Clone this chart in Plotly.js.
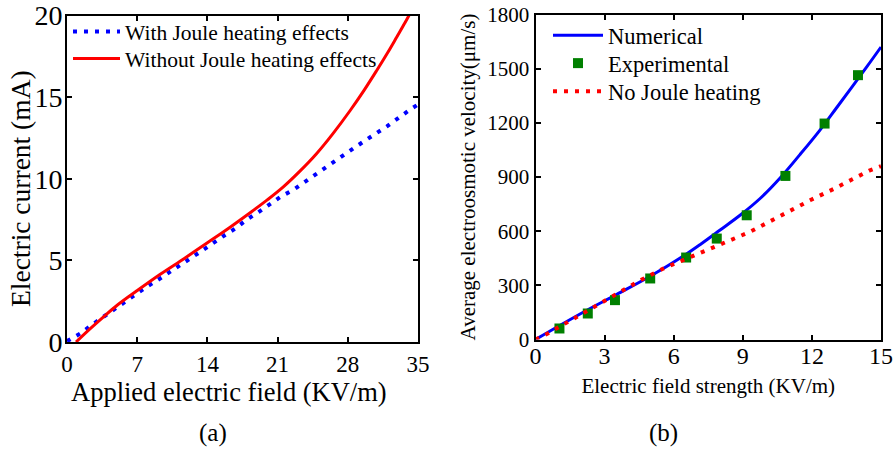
<!DOCTYPE html>
<html>
<head>
<meta charset="utf-8">
<script src="https://cdn.plot.ly/plotly-3.0.1.min.js"></script>
<style>html,body{margin:0;padding:0;background:#fff;}#chart{width:895px;height:450px;}</style>
</head>
<body>
<div id="chart"></div>
<script>
// Panel (a): electric current vs applied field
const fieldA_with = [0, 1.4, 2.5, 3.7, 4.9, 5.9, 7, 8, 9.2, 10.3, 11.3, 12.5, 13.6, 14.6, 15.8, 16.9, 17.9, 19.1, 20.3, 21.3, 22.6, 24.7, 27.4, 29.7, 31.9, 34.2, 35];
const currentWith = [0.05, 0.55, 1.06, 1.57, 2.08, 2.5, 3.0, 3.4, 3.86, 4.33, 4.73, 5.2, 5.65, 6.1, 6.57, 7.0, 7.49, 7.96, 8.5, 8.9, 9.33, 10.25, 11.37, 12.33, 13.21, 14.23, 14.55];
const fieldA_without = [0.9, 2.4, 3.7, 5, 7, 9.3, 11.7, 14, 16.3, 18.4, 20, 21.6, 23.2, 24.9, 26.5, 28.2, 29.6, 30.9, 32, 32.9, 33.7, 34.4, 35.2];
const currentWithout = [0, 0.86, 1.57, 2.25, 3.15, 4.15, 5.12, 6.08, 7.05, 7.98, 8.72, 9.52, 10.45, 11.55, 12.75, 14.15, 15.4, 16.65, 17.75, 18.7, 19.55, 20.35, 21.3];
const ticksA_x = [0, 7, 14, 21, 28, 35];
const ticksA_y = [0, 5, 10, 15, 20];

// Panel (b): average electroosmotic velocity vs field strength
const fieldB_num = [0, 1.07, 2.23, 3.53, 4.98, 6.42, 7.14, 8.0, 8.88, 9.75, 10.62, 11.48, 12.35, 13.08, 14.38, 15];
const velNum = [0, 79, 162, 250, 350, 462, 525, 605, 688, 781, 895, 1024, 1160, 1285, 1510, 1620];
const fieldB_exp = [1.04, 2.27, 3.45, 4.98, 6.54, 7.87, 9.17, 10.85, 12.55, 14.0];
const velExp = [61, 144, 218, 338, 454, 559, 688, 906, 1196, 1464];
const fieldB_noJ = [0, 0.53, 1.54, 2.55, 3.56, 4.57, 5.55, 6.57, 7.58, 8.16, 9.31, 11.92, 12.93, 14.52, 15];
const velNoJ = [0, 33, 107, 181, 255, 329, 393, 449, 504, 532, 596, 771, 833, 937, 960];
const ticksB_x = [0, 3, 6, 9, 12, 15];
const ticksB_y = [0, 300, 600, 900, 1200, 1500, 1800];

const serif = "Liberation Serif, Times New Roman, serif";

const traces = [
  {x: fieldA_with, y: currentWith, name: "With Joule heating effects", mode: "lines", line: {color: "#0000ff", width: 4, dash: "4px,7px"}, xaxis: "x", yaxis: "y", legend: "legend"},
  {x: fieldA_without, y: currentWithout, name: "Without Joule heating effects", mode: "lines", line: {color: "#ff0000", width: 3, shape: "spline", smoothing: 1}, xaxis: "x", yaxis: "y", legend: "legend2"},
  {x: fieldB_num, y: velNum, name: "Numerical", mode: "lines", line: {color: "#0000ff", width: 3, shape: "spline", smoothing: 1}, xaxis: "x2", yaxis: "y2", legend: "legend3"},
  {x: fieldB_exp, y: velExp, name: "Experimental", mode: "markers", marker: {symbol: "square", color: "#008000", size: 10}, xaxis: "x2", yaxis: "y2", legend: "legend4", cliponaxis: false},
  {x: fieldB_noJ, y: velNoJ, name: "No Joule heating", mode: "lines", line: {color: "#ff0000", width: 4, dash: "4px,7px"}, xaxis: "x2", yaxis: "y2", legend: "legend5"}
];

const axisCommon = {
  showline: true, linecolor: "#000", linewidth: 2, mirror: "ticks",
  ticks: "inside", ticklen: 5, tickwidth: 2, tickcolor: "#000",
  showgrid: false, zeroline: false, tickmode: "array"
};

function leg(xpx, ytop, size, iw) {
  return {x: xpx/895, y: (450-ytop)/450, xanchor: "left", yanchor: "top", bgcolor: "rgba(0,0,0,0)",
          font: {size: size, family: serif}, itemwidth: iw};
}

const layout = {
  width: 895, height: 450,
  margin: {l: 0, r: 0, t: 0, b: 0},
  paper_bgcolor: "#fff", plot_bgcolor: "#fff",
  font: {family: serif, color: "#000"},
  showlegend: true,
  xaxis: Object.assign({}, axisCommon, {domain: [67/895, 418/895], range: [0, 35], tickvals: ticksA_x, ticktext: ticksA_x.map(String), tickfont: {size: 23, family: serif}, anchor: "y"}),
  yaxis: Object.assign({}, axisCommon, {domain: [(450-342)/450, (450-15.5)/450], range: [0, 20], tickvals: ticksA_y, ticktext: ticksA_y.map(String), tickfont: {size: 28, family: serif}, anchor: "x", ticklabelstandoff: -3}),
  xaxis2: Object.assign({}, axisCommon, {domain: [535.5/895, 881/895], range: [0, 15], tickvals: ticksB_x, ticktext: ticksB_x.map(String), tickfont: {size: 24, family: serif}, anchor: "y2", ticklabelstandoff: -6,
    title: {text: "Electric field strength (KV/m)", font: {size: 21, family: serif}, standoff: 10}}),
  yaxis2: Object.assign({}, axisCommon, {domain: [(450-339.5)/450, (450-14.5)/450], range: [0, 1800], tickvals: ticksB_y, ticktext: ticksB_y.map(String), tickfont: {size: 21, family: serif}, anchor: "x2",
    title: {text: "Average electroosmotic velocity(μm/s)", font: {size: 21, family: serif}, standoff: 6}}),
  legend: leg(68, 11, 21.5, 47),
  legend2: leg(68, 38, 21.5, 47),
  legend3: leg(548, 14, 22.5, 50),
  legend4: leg(548, 42, 22.5, 50),
  legend5: leg(548, 70, 22.5, 50),
  annotations: [
    {text: "Electric current (mA)", x: 20/895, y: (450-189)/450, xref: "paper", yref: "paper", xanchor: "center", yanchor: "middle", textangle: -90, showarrow: false, font: {size: 27.5, family: serif}},
    {text: "Applied electric field (KV/m)", x: 229/895, y: (450-392)/450, xref: "paper", yref: "paper", xanchor: "center", yanchor: "middle", showarrow: false, font: {size: 26.5, family: serif}},
    {text: "(a)", x: 213/895, y: (450-433)/450, xref: "paper", yref: "paper", xanchor: "center", yanchor: "middle", showarrow: false, font: {size: 25, family: serif}},
    {text: "(b)", x: 663/895, y: (450-433)/450, xref: "paper", yref: "paper", xanchor: "center", yanchor: "middle", showarrow: false, font: {size: 25, family: serif}}
  ]
};

Plotly.newPlot("chart", traces, layout, {staticPlot: true, displayModeBar: false});
</script>
</body>
</html>
